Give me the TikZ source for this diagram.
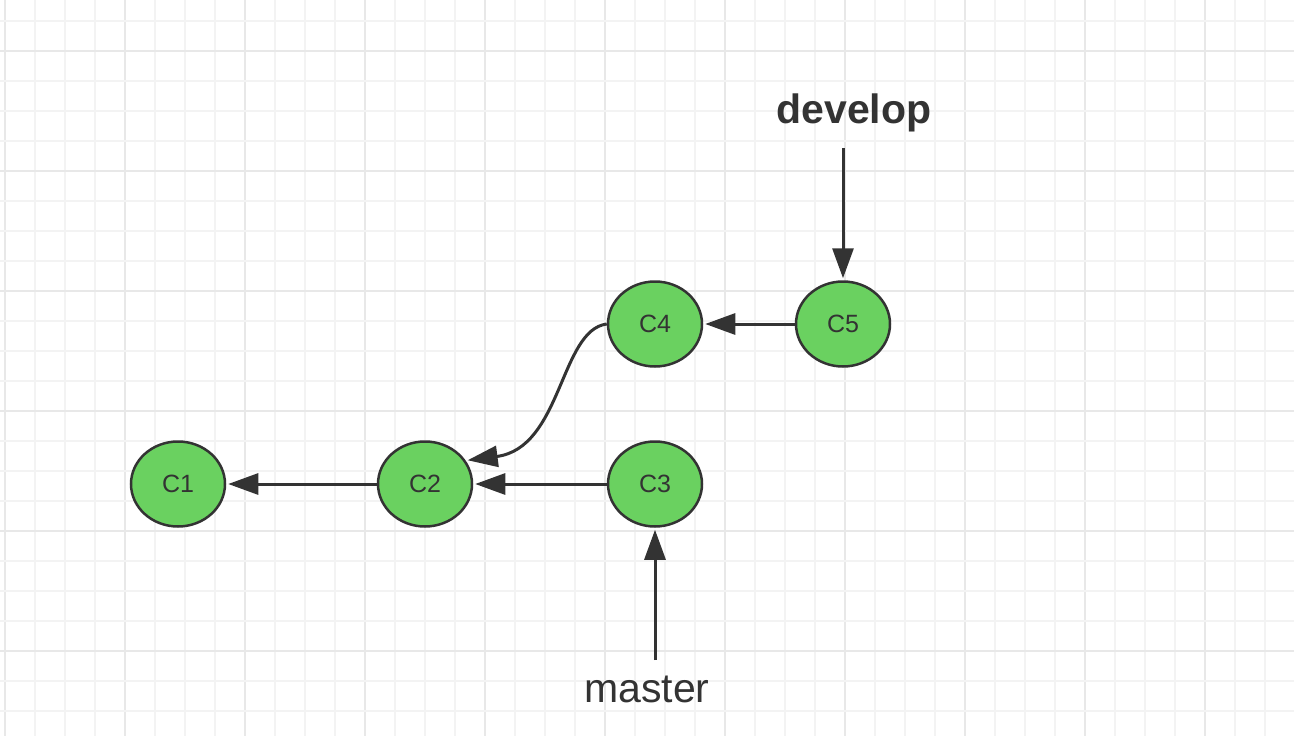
\documentclass[tikz,border=0pt]{standalone}
\usepackage{fontspec}
\setmainfont{Liberation Sans}
\usetikzlibrary{shapes.geometric,arrows.meta}
\definecolor{ink}{HTML}{333333}
\definecolor{gmin}{HTML}{F3F3F3}
\definecolor{gmaj}{HTML}{E8E8E8}
\definecolor{cfill}{HTML}{6AD160}
\tikzset{
  commit/.style={ellipse, draw=ink, fill=cfill, line width=2.5pt, minimum width=94pt, minimum height=85pt, inner sep=0pt, font=\fontsize{25}{28}\selectfont, text=ink},
  conn/.style={draw=ink, line width=3pt, -{Triangle[length=30pt,width=21pt]}, shorten >=2pt},
  lbl/.style={anchor=base, text=ink, inner sep=0pt, font=\fontsize{41}{48}\selectfont}
}
\begin{document}
\begin{tikzpicture}[x=1pt,y=-1pt]
\useasboundingbox (0,0) rectangle (1294,736);
\fill[white] (0,0) rectangle (1294,736);
% grid
\foreach \i in {0,...,43} {
  \pgfmathtruncatemacro{\xx}{5+30*\i}
  \pgfmathtruncatemacro{\mj}{mod(\i,4)}
  \ifnum\mj=0
    \draw[gmaj, line width=2.6pt] (\xx,0) -- (\xx,736);
  \else
    \draw[gmin, line width=2pt] (\xx,0) -- (\xx,736);
  \fi
}
\foreach \j in {0,...,24} {
  \pgfmathtruncatemacro{\yy}{21+30*\j}
  \pgfmathtruncatemacro{\mj}{mod(\j+3,4)}
  \ifnum\mj=0
    \draw[gmaj, line width=2.6pt] (0,\yy) -- (1294,\yy);
  \else
    \draw[gmin, line width=2pt] (0,\yy) -- (1294,\yy);
  \fi
}
% commits
\node[commit] (c1) at (178,484) {C1};
\node[commit] (c2) at (425,484) {C2};
\node[commit] (c3) at (655,484) {C3};
\node[commit] (c4) at (655,324) {C4};
\node[commit] (c5) at (843,324) {C5};
% labels
\node[lbl, font=\fontsize{41}{48}\selectfont\bfseries] (dev) at (854,123) {develop};
\node[lbl] (mas) at (647,702) {master};
\coordinate (devs) at (843,148);
\coordinate (mass) at (655,660);
% connectors
\draw[conn] (c2.west) -- (c1.east);
\draw[conn] (c3.west) -- (c2.east);
\draw[conn] (c5.west) -- (c4.east);
\draw[conn] (c4.west) .. controls (560,330) and (562,448) .. (c2.30);
\draw[conn] (devs) -- (c5.north);
\draw[conn] (mass) -- (c3.south);
\end{tikzpicture}
\end{document}
